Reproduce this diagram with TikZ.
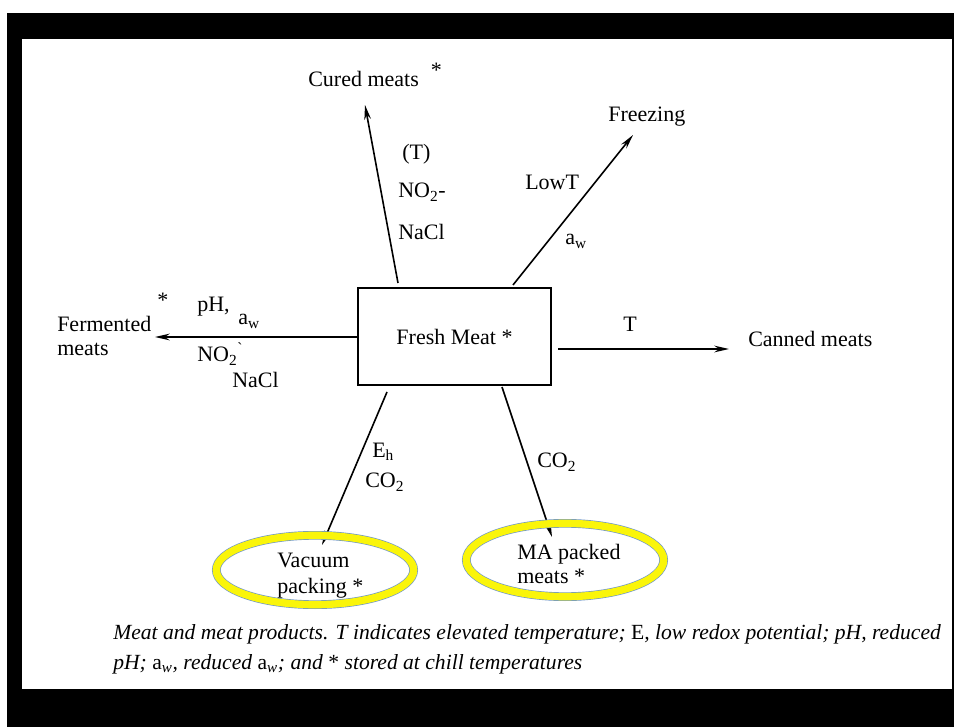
\documentclass[tikz,border=0pt]{standalone}
\usepackage{fontspec}
\setmainfont{Liberation Serif}
\usetikzlibrary{arrows.meta,shapes.geometric}
\definecolor{ringyellow}{RGB}{250,245,10}
\definecolor{ringblue}{RGB}{110,150,200}
\begin{document}
\begin{tikzpicture}[x=0.75pt,y=-0.75pt,
  lbl/.style={inner sep=0pt, anchor=base west, font=\fontsize{16.5}{20}\selectfont},
  captext/.style={inner sep=0pt, anchor=base west, font=\fontsize{16.2}{20}\selectfont\itshape},
  conn/.style={line width=1.2pt},
  arr/.style={conn,-{Stealth[length=11pt,width=5pt]}},
  ring/.style={ellipse, draw=ringblue, line width=0.5pt, double=ringyellow, double distance=5.5pt, inner sep=0pt}]
\useasboundingbox (0,0) rectangle (954,727);
\fill[white] (0,0) rectangle (954,727);
\fill[black] (7,13) rectangle (954,727);
\fill[white] (22,39) rectangle (952,689);

% central box
\node[draw, line width=1.1pt, minimum width=145pt, minimum height=73pt, inner sep=0pt,
      font=\fontsize{16.5}{20}\selectfont] (fresh) at (454.5,336.5) {Fresh Meat *};

% targets
\node[lbl] (cured) at (308,87) {Cured meats\hspace{9pt}\raisebox{7pt}{*}};
\node[lbl] (freezing) at (608,122) {Freezing};
\node[lbl, align=left, font=\fontsize{16.5}{18}\selectfont] (ferm) at (57,356) {Fermented\\meats};
\node[lbl] (fermstar) at (157,308) {*};
\node[lbl] (canned) at (748,347) {Canned meats};

% arrow labels
\node[lbl] (lT) at (402,160) {(T)};
\node[lbl] (lNOa) at (398,198) {NO\textsubscript{2}-};
\node[lbl] (lNaCla) at (398,240) {NaCl};
\node[lbl] (lLowT) at (525,190) {LowT};
\node[lbl] (lawa) at (565,245) {a\textsubscript{w}};
\node[lbl] (lpH) at (197,312) {pH,};
\node[lbl] (lawb) at (238,325) {a\textsubscript{w}};
\node[lbl] (lNOb) at (197,362) {NO\textsubscript{2}\textsuperscript{\textasciigrave}};
\node[lbl] (lNaClb) at (232,388) {NaCl};
\node[lbl] (lTc) at (623,332) {T};
\node[lbl] (lEh) at (372,457) {E\textsubscript{h}};
\node[lbl] (lCOa) at (365,488) {CO\textsubscript{2}};
\node[lbl] (lCOb) at (537,468) {CO\textsubscript{2}};

% connector end points
\coordinate (curedS) at (398,283);
\coordinate (curedT) at (365,105);
\coordinate (freezeS) at (513,285);
\coordinate (freezeT) at (633,135);
\coordinate (fermT) at (155,337);
\coordinate (cannedS) at (558,349);
\coordinate (cannedT) at (729,349);
\coordinate (vacS) at (387,392);
\coordinate (vacT) at (322,545);
\coordinate (maS) at (502,387);
\coordinate (maT) at (552,537);

\draw[arr] (curedS) -- (curedT);
\draw[arr] (freezeS) -- (freezeT);
\draw[arr] (fresh.west |- fermT) -- (fermT);
\draw[arr] (cannedS) -- (cannedT);
\draw[arr] (vacS) -- (vacT);
\draw[arr] (maS) -- (maT);

% ringed outcomes
\node[ring, minimum width=148pt, minimum height=52pt] (vac) at (315,570) {};
\node[ring, minimum width=148pt, minimum height=55pt] (ma) at (565,560) {};
\node[lbl, align=left, font=\fontsize{16.5}{19.5}\selectfont] (vactext) at (277,593) {Vacuum\\packing *};
\node[lbl, align=left, font=\fontsize{16.5}{17.5}\selectfont] (matext) at (517,583) {MA packed\\meats *};

% caption
\node[captext] (cap1) at (113,639) {Meat and meat products. T indicates elevated temperature; \textup{E}, low redox potential; pH, reduced};
\node[captext] (cap2) at (113,669) {pH; \textup{a}\textsubscript{w}, reduced \textup{a}\textsubscript{w}; and \textup{*} stored at chill temperatures};
\end{tikzpicture}
\end{document}
